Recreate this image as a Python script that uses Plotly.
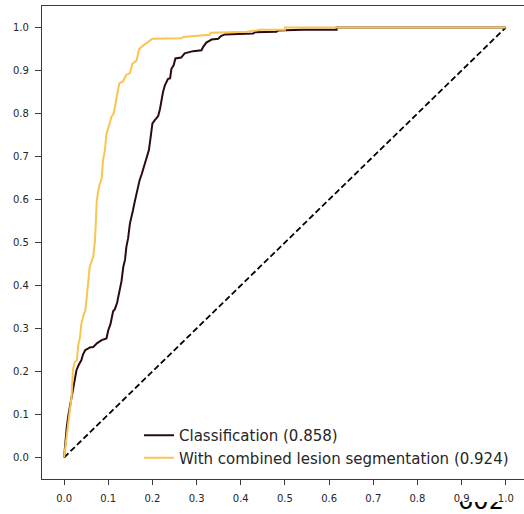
import plotly.graph_objects as go

# ---- data ----
clf_fpr = [0, 0.003, 0.006, 0.010, 0.013, 0.017, 0.020, 0.024, 0.028, 0.033, 0.039, 0.043, 0.048,
           0.054, 0.058, 0.066, 0.075, 0.085, 0.096, 0.100, 0.105, 0.111, 0.115, 0.120, 0.126, 0.130,
           0.134, 0.138, 0.141, 0.145, 0.149, 0.153, 0.156, 0.160, 0.164, 0.168, 0.171, 0.176, 0.183,
           0.187, 0.192, 0.196, 0.200, 0.205, 0.213, 0.217, 0.220, 0.224, 0.228, 0.235, 0.240, 0.243,
           0.248, 0.252, 0.265, 0.273, 0.292, 0.311, 0.315, 0.322, 0.334, 0.349, 0.355, 0.364, 0.428,
           0.432, 0.481, 0.484, 0.540, 0.617, 0.617, 1.0]
clf_tpr = [0, 0.040, 0.070, 0.100, 0.118, 0.140, 0.164, 0.180, 0.203, 0.215, 0.226, 0.240, 0.250,
           0.253, 0.256, 0.257, 0.266, 0.273, 0.277, 0.296, 0.310, 0.340, 0.345, 0.360, 0.389, 0.410,
           0.443, 0.460, 0.490, 0.510, 0.544, 0.560, 0.575, 0.595, 0.614, 0.630, 0.645, 0.660, 0.684,
           0.700, 0.715, 0.745, 0.777, 0.784, 0.794, 0.810, 0.830, 0.850, 0.865, 0.880, 0.882, 0.904,
           0.912, 0.928, 0.930, 0.940, 0.945, 0.947, 0.955, 0.965, 0.972, 0.974, 0.980, 0.984, 0.986,
           0.989, 0.990, 0.993, 0.995, 0.995, 1.0, 1.0]

seg_fpr = [0, 0.004, 0.009, 0.013, 0.017, 0.020, 0.024, 0.029, 0.032, 0.036, 0.039, 0.045, 0.048,
           0.051, 0.055, 0.058, 0.062, 0.066, 0.070, 0.072, 0.074, 0.079, 0.085, 0.088, 0.092, 0.096,
           0.100, 0.104, 0.107, 0.112, 0.115, 0.120, 0.125, 0.134, 0.140, 0.149, 0.155, 0.164, 0.170,
           0.179, 0.187, 0.195, 0.200, 0.266, 0.270, 0.292, 0.330, 0.332, 0.413, 0.435, 0.443, 0.500,
           0.500, 1.0]
seg_tpr = [0, 0.030, 0.070, 0.110, 0.141, 0.203, 0.222, 0.226, 0.261, 0.280, 0.310, 0.335, 0.340,
           0.373, 0.410, 0.443, 0.455, 0.467, 0.505, 0.560, 0.598, 0.629, 0.649, 0.691, 0.711, 0.753,
           0.765, 0.780, 0.792, 0.800, 0.815, 0.839, 0.870, 0.875, 0.889, 0.894, 0.916, 0.923, 0.950,
           0.958, 0.963, 0.970, 0.974, 0.975, 0.978, 0.980, 0.983, 0.988, 0.990, 0.993, 0.995, 0.995,
           1.0, 1.0]

chance = [0, 1]
series_names = ["Classification (0.858)", "With combined lesion segmentation (0.924)"]
tick_vals = [0.0, 0.1, 0.2, 0.3, 0.4, 0.5, 0.6, 0.7, 0.8, 0.9, 1.0]
tick_text = ["0.0", "0.1", "0.2", "0.3", "0.4", "0.5", "0.6", "0.7", "0.8", "0.9", "1.0"]
page_text = "602"

W, H = 524, 514


def fx(px):  # window pixel x -> paper fraction
    return px / W


def fy(py):  # window pixel y -> paper fraction (from bottom)
    return 1 - py / H


DARK = "#2b0b10"
YELLOW = "#f9c550"
AX = "#3a3a3a"
TXT = "#262626"

fig = go.Figure()
fig.add_trace(go.Scatter(x=chance, y=chance, mode="lines", showlegend=False,
                         line=dict(color="black", width=1.8, dash="6px,3px")))
fig.add_trace(go.Scatter(x=clf_fpr, y=clf_tpr, mode="lines", name=series_names[0],
                         line=dict(color=DARK, width=2)))
fig.add_trace(go.Scatter(x=seg_fpr, y=seg_tpr, mode="lines", name=series_names[1],
                         line=dict(color=YELLOW, width=2)))
# partially cropped page number at the bottom edge (only its lower part shows)
fig.add_trace(go.Scatter(x=[0.377], y=[10.7], mode="text", text=[page_text], textposition="middle center",
                         textfont=dict(family="DejaVu Sans", size=24, color="black"),
                         showlegend=False, cliponaxis=True, xaxis="x2", yaxis="y2", hoverinfo="skip"))

font = dict(family="DejaVu Sans", size=10, color=TXT)
fig.update_layout(
    width=W, height=H, autosize=False,
    margin=dict(l=0, r=0, t=0, b=0, pad=0),
    paper_bgcolor="white", plot_bgcolor="white",
    font=font,
    xaxis=dict(domain=[fx(42), 1], range=[-0.05, 1.0412], tickvals=tick_vals, ticktext=tick_text,
               showgrid=False, zeroline=False, showline=True, linecolor=AX, linewidth=1.25,
               mirror=True, ticks="outside", ticklen=5, tickwidth=1.25, tickcolor=AX,
               tickfont=font, ticklabelstandoff=5, anchor="y"),
    yaxis=dict(domain=[fy(479), fy(6)], range=[-0.05, 1.05], tickvals=tick_vals,
               ticktext=tick_text, showgrid=False, zeroline=False, showline=True, linecolor=AX,
               linewidth=1.25, mirror=False, ticks="outside", ticklen=6, tickwidth=1.25,
               tickcolor=AX, tickfont=font, ticklabelstandoff=4, anchor="x"),
    xaxis2=dict(domain=[fx(455), 1], range=[0, 1], visible=False, anchor="y2"),
    yaxis2=dict(domain=[0, fy(502)], range=[0, 12], visible=False, anchor="x2"),
    legend=dict(x=fx(139), y=fy(419), xanchor="left", yanchor="top",
                font=dict(family="DejaVu Sans", size=15, color=TXT),
                bgcolor="rgba(0,0,0,0)", borderwidth=0, tracegroupgap=0),
    showlegend=True,
)

fig.write_html("out.html", config={"displayModeBar": False},
               post_script="document.body.style.margin='0px';document.body.style.padding='0px';")
